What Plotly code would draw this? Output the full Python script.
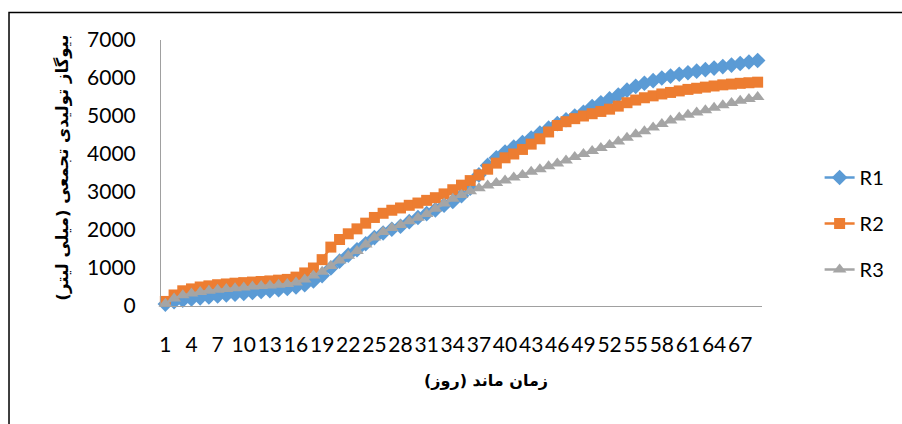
import plotly.graph_objects as go

# Retention time (days)
days = list(range(1, 70))

# Cumulative biogas production (ml) per reactor
r1 = [50, 110, 150, 185, 215, 240, 265, 290, 310, 330,
      355, 380, 405, 430, 460, 500, 560, 660, 800, 1000,
      1180, 1340, 1480, 1640, 1800, 1920, 2020, 2100, 2220, 2330,
      2430, 2530, 2650, 2750, 2900, 3100, 3450, 3700, 3900, 4050,
      4180, 4300, 4420, 4550, 4680, 4800, 4900, 5000, 5100, 5250,
      5350, 5450, 5550, 5680, 5780, 5860, 5930, 6000, 6050, 6100,
      6140, 6180, 6220, 6260, 6300, 6340, 6380, 6420, 6460]

r2 = [120, 290, 400, 450, 500, 530, 560, 580, 600, 615,
      630, 645, 660, 680, 700, 760, 870, 1000, 1220, 1550,
      1750, 1900, 2030, 2180, 2330, 2440, 2520, 2580, 2650, 2710,
      2780, 2850, 2950, 3060, 3180, 3300, 3450, 3600, 3760, 3900,
      4000, 4120, 4260, 4400, 4580, 4750, 4850, 4930, 5000, 5060,
      5120, 5180, 5260, 5350, 5420, 5480, 5530, 5580, 5620, 5660,
      5700, 5730, 5760, 5790, 5820, 5840, 5860, 5875, 5890]

r3 = [60, 200, 280, 330, 370, 400, 430, 450, 470, 490,
      510, 525, 540, 560, 580, 620, 700, 800, 900, 1050,
      1200, 1320, 1450, 1620, 1800, 1950, 2050, 2130, 2230, 2320,
      2420, 2560, 2700, 2820, 2920, 3020, 3100, 3170, 3240, 3300,
      3380, 3450, 3530, 3600, 3680, 3750, 3830, 3920, 4000, 4080,
      4160, 4240, 4330, 4430, 4520, 4600, 4700, 4790, 4880, 4960,
      5030, 5090, 5150, 5220, 5280, 5340, 5400, 5450, 5500]

series_names = ["R1", "R2", "R3"]
x_ticks = days[::3]
y_ticks = [0, 1000, 2000, 3000, 4000, 5000, 6000, 7000]

x_title = "زمان ماند (روز)"
y_title = "بیوگاز تولیدی تجمعی (میلی لیتر)"

colors = ["#5B9BD5", "#ED7D31", "#A5A5A5"]
symbols = ["diamond", "square", "triangle-up"]
sizes = [12, 11, 12]

W, H = 902, 424
L, R, T, B = 161, 136, 40, 118
pw, ph = W - L - R, H - T - B


def px(xp):
    return (xp - L) / pw


def py(yp):
    return (H - B - yp) / ph


fig = go.Figure()
for name, vals, c, s, sz in zip(series_names, [r1, r2, r3], colors, symbols, sizes):
    fig.add_trace(go.Scatter(
        x=days, y=vals, name=name, mode="lines+markers",
        line=dict(color=c, width=2.5),
        marker=dict(symbol=s, size=sz, color=c, line=dict(width=0)),
        cliponaxis=False, legendgroup=name,
    ))

tick_font = dict(family="Lato, Liberation Sans, sans-serif", size=21, color="#000000")

fig.update_layout(
    width=W, height=H,
    margin=dict(l=L, r=R, t=T, b=B),
    paper_bgcolor="white", plot_bgcolor="white",
    showlegend=True,
    legend=dict(
        x=px(824), xanchor="left", y=py(158), yanchor="top",
        font=dict(family="Lato, Liberation Sans, sans-serif", size=20, color="#000000"),
        tracegroupgap=17, bgcolor="rgba(0,0,0,0)",
    ),
    xaxis=dict(
        range=[0.5, 69.5], tickmode="array", tickvals=x_ticks,
        ticktext=[str(v) for v in x_ticks], tickangle=0,
        showgrid=False, zeroline=False, showline=True,
        linecolor="#A0A0A0", linewidth=1,
        ticks="outside", ticklen=20, tickcolor="rgba(0,0,0,0)",
        tickfont=tick_font,
    ),
    yaxis=dict(
        range=[0, 7000], tickmode="array", tickvals=y_ticks,
        showgrid=False, zeroline=False, showline=True,
        linecolor="#A0A0A0", linewidth=1,
        ticks="outside", ticklen=20, tickcolor="rgba(0,0,0,0)",
        tickfont=tick_font,
    ),
    annotations=[
        dict(text=x_title, xref="paper", yref="paper", x=px(488), y=py(380),
             xanchor="center", yanchor="middle", showarrow=False,
             font=dict(family="DejaVu Sans", size=16, color="#000000", weight="bold")),
        dict(text=y_title, xref="paper", yref="paper", x=px(61), y=py(168),
             xanchor="center", yanchor="middle", showarrow=False, textangle=-90,
             font=dict(family="DejaVu Sans", size=16.5, color="#000000", weight="bold")),
    ],
    shapes=[
        dict(type="rect", xref="paper", yref="paper",
             x0=px(8), x1=px(915), y0=py(440), y1=py(12.5),
             line=dict(color="#000000", width=1.5), fillcolor="rgba(0,0,0,0)", layer="below"),
    ],
)

fig.write_html("out.html")
